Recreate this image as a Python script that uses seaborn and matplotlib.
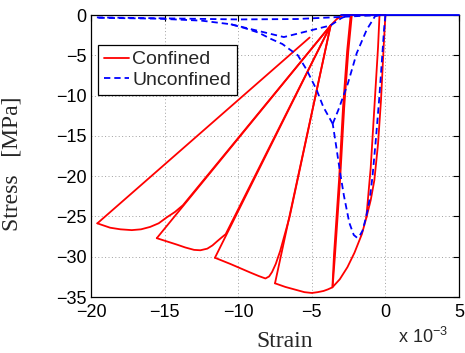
import numpy as np
import pandas as pd
import seaborn as sns
import matplotlib.pyplot as plt

# ---- confined (red) branches, strain in 1e-3, stress in MPa ----
conf_env_x = [0, -0.12, -0.3, -0.5, -0.75, -1.0, -1.3, -1.6, -2.1, -2.58, -3.1, -3.6,
              -3.9, -4.2, -4.6, -5.0, -5.5, -6.0, -6.8, -7.5]
conf_env_y = [0, -4.0, -10.6, -16.0, -20.5, -23.0, -25.2, -27.2, -29.5, -31.3, -32.8, -33.8,
              -34.05, -34.25, -34.4, -34.5, -34.4, -34.15, -33.75, -33.3]
conf_cyc0_x = [-1.3, -1.0, -0.72, -0.5, -0.4]
conf_cyc0_y = [-25.2, -19.0, -10.6, -4.0, 0]
conf_unA_x = [-3.6, -3.49, -3.15, -2.88, -2.6, -2.36]
conf_unA_y = [-33.8, -29.7, -20.5, -11.5, -4.5, 0]
conf_reA_x = [-2.28, -2.52, -2.8, -3.08, -3.42, -3.58]
conf_reA_y = [0, -4.5, -11.5, -20.5, -29.7, -33.6]
conf_top_x = [-3.72, -3.3, -2.85, -2.5, 0]
conf_top_y = [-1.29, -0.5, 0, 0, 0]
conf_un4_x = [-7.5, -3.72]
conf_un4_y = [-33.3, -1.29]
conf_re4_x = [-3.72, -6.5, -7.15, -7.45, -7.7, -7.9, -8.15, -8.6, -9.17, -10.53, -11.58]
conf_re4_y = [-1.29, -25.0, -29.3, -30.9, -31.9, -32.45, -32.7, -32.4, -31.97, -30.9, -30.13]
conf_un3_x = [-11.58, -3.72]
conf_un3_y = [-30.13, -1.29]
conf_re3_x = [-3.72, -10.85, -11.15, -11.44, -11.75, -12.1, -12.57, -13.0, -13.6, -14.16, -15.53]
conf_re3_y = [-1.29, -27.2, -27.65, -28.1, -28.6, -29.0, -29.2, -29.15, -28.85, -28.5, -27.7]
conf_un2_x = [-15.53, -3.72]
conf_un2_y = [-27.7, -1.29]
conf_re2_x = [-3.72, -13.75, -14.3, -14.84, -15.4, -15.98, -16.6, -17.23, -18.0, -18.7, -19.57]
conf_re2_y = [-1.29, -23.6, -24.45, -25.1, -25.85, -26.3, -26.6, -26.7, -26.6, -26.4, -25.86]
conf_un1_x = [-19.57, -5.15]
conf_un1_y = [-25.86, -2.8]

# ---- unconfined (blue) branches ----
unc_env_x = [0, -0.1, -0.25, -0.43, -0.65, -0.88, -1.05, -1.22, -1.4, -1.56, -1.75, -1.92,
             -2.15, -2.45, -2.82, -3.1, -3.35, -3.58]
unc_env_y = [0, -2.0, -6.0, -10.6, -15.5, -20.1, -22.6, -24.3, -25.7, -26.8, -27.4, -27.65,
             -27.3, -25.8, -22.4, -19.3, -16.2, -13.5]
unc_soft_x = [-3.58, -4.22, -4.67, -5.35, -5.95, -6.48, -7.0, -7.8, -8.6, -9.6, -10.5,
              -12.5, -15.5, -19.6]
unc_soft_y = [-13.5, -11.4, -9.3, -6.8, -5.0, -4.3, -3.6, -2.95, -2.2, -1.6, -1.15,
              -0.7, -0.45, -0.35]
unc_un1_x = [-3.58, -3.2, -2.55, -1.95, -1.27, -0.71, -0.4]
unc_un1_y = [-13.5, -11.8, -8.5, -4.74, -1.83, -0.17, 0]
unc_v_x = [-10.5, -6.9, -3.72, -3.0, -2.5]
unc_v_y = [-1.15, -2.74, -1.29, -0.4, 0]
unc_top_x = [-19.6, -15.5, -10.0, -6.0, -3.7, -1.5, 0]
unc_top_y = [-0.3, -0.4, -0.55, -0.5, -0.3, -0.1, 0]
unc_zero_x = [-3.0, 0, 5]
unc_zero_y = [0, 0, 0]

branches = [
    ("Confined", conf_env_x, conf_env_y), ("Confined", conf_cyc0_x, conf_cyc0_y),
    ("Confined", conf_unA_x, conf_unA_y), ("Confined", conf_reA_x, conf_reA_y),
    ("Confined", conf_top_x, conf_top_y),
    ("Confined", conf_un4_x, conf_un4_y), ("Confined", conf_re4_x, conf_re4_y),
    ("Confined", conf_un3_x, conf_un3_y), ("Confined", conf_re3_x, conf_re3_y),
    ("Confined", conf_un2_x, conf_un2_y), ("Confined", conf_re2_x, conf_re2_y),
    ("Confined", conf_un1_x, conf_un1_y),
    ("Unconfined", unc_env_x, unc_env_y), ("Unconfined", unc_soft_x, unc_soft_y),
    ("Unconfined", unc_un1_x, unc_un1_y), ("Unconfined", unc_v_x, unc_v_y),
    ("Unconfined", unc_top_x, unc_top_y), ("Unconfined", unc_zero_x, unc_zero_y),
]

rows = []
for i, (case, xs, ys) in enumerate(branches):
    for k, (x, y) in enumerate(zip(xs, ys)):
        rows.append({"strain": x, "stress": y, "case": case, "branch": i, "order": k})
df = pd.DataFrame(rows)

sns.set_style("white")
plt.rcParams['font.family'] = ['Liberation Sans', 'DejaVu Sans']
plt.rcParams['mathtext.fontset'] = 'custom'
plt.rcParams['mathtext.rm'] = 'Liberation Sans'
plt.rcParams['mathtext.default'] = 'regular'

fig = plt.figure(figsize=(4.65, 3.53), dpi=100)
ax = fig.add_axes([91 / 465, 1 - 297 / 353, 368 / 465, 282 / 353])

sns.lineplot(
    data=df, x="strain", y="stress",
    hue="case", style="case", units="branch",
    estimator=None, sort=False,
    palette={"Confined": "#ff0000", "Unconfined": "#0000ff"},
    dashes={"Confined": "", "Unconfined": (3.5, 2.2)},
    linewidth=1.3, ax=ax, legend=False,
)
for ln in ax.get_lines():
    ln.set_clip_on(False)
    ln.set_solid_joinstyle("round")
# overlapping loading/unloading along zero stress reads as a solid line
ax.get_lines()[-1].set_linestyle("-")
ax.get_lines()[-1].set_zorder(5)

ax.set_xlim(-20, 5)
ax.set_ylim(-35, 0)
ax.set_xticks(np.arange(-20, 6, 5))
ax.set_yticks(np.arange(-35, 1, 5))
ax.grid(True, linestyle=(0, (1, 2.5)), color="#a0a0a0", linewidth=0.7)
ax.tick_params(direction="in", top=True, right=True, length=4, width=0.8,
               labelsize=13, colors="black")
ax.tick_params(axis="x", pad=5)
ax.tick_params(axis="y", pad=3)
for s in ax.spines.values():
    s.set_color("black")
    s.set_linewidth(0.9)
    s.set_zorder(1)

ax.set_xlabel("Strain", family="Liberation Serif", fontsize=17)
ax.xaxis.set_label_coords(0.527, -0.176)
ax.xaxis.label.set_va("baseline")
ax.set_ylabel("Stress   [MPa]", family="Liberation Serif", fontsize=17)
ax.yaxis.set_label_coords(-0.20, 0.472)
ax.yaxis.label.set_va("baseline")

fig.text(448 / 465, 1 - 343 / 353, r"x 10$^{-3}$", ha="right", va="baseline", fontsize=13)

handles = [plt.Line2D([], [], color="#ff0000", lw=1.3),
           plt.Line2D([], [], color="#0000ff", lw=1.3, dashes=(3.5, 2.2))]
leg = ax.legend(handles, ["Confined", "Unconfined"], loc="upper left",
                bbox_to_anchor=(0.019, 0.894), borderaxespad=0, fontsize=14,
                frameon=True, fancybox=False, edgecolor="black", framealpha=1,
                handlelength=1.3, handletextpad=0.15, labelspacing=0.15,
                borderpad=0.3)
leg.get_frame().set_linewidth(0.9)

fig.savefig("out.png", dpi=100)
